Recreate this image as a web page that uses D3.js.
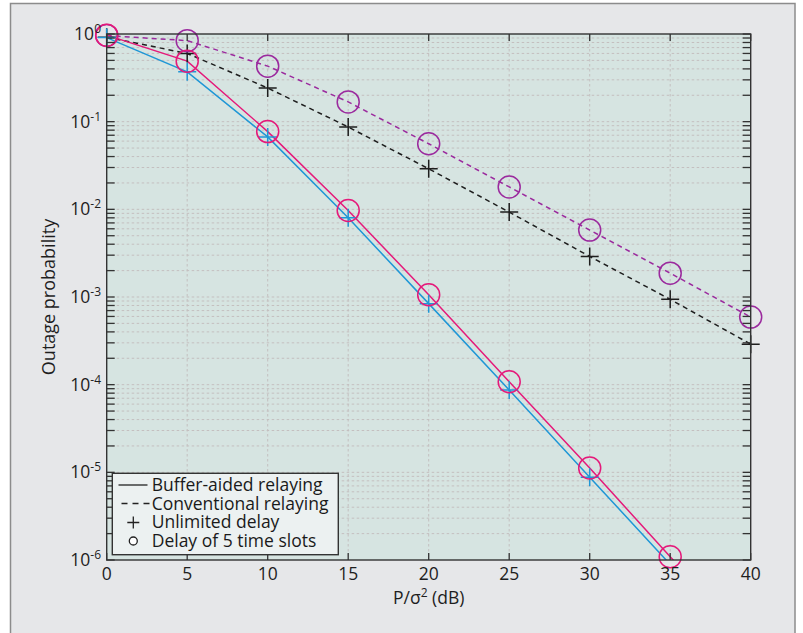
<!DOCTYPE html>
<html>
<head>
<meta charset="utf-8">
<script src="https://cdn.jsdelivr.net/npm/d3@7"></script>
<style>
html,body{margin:0;padding:0;background:#fff;}
svg{display:block;font-family:"Open Sans",sans-serif;}
</style>
</head>
<body>
<svg id="chart" width="803" height="633"></svg>
<script>
// ---- data ----
const snr = [0, 5, 10, 15, 20, 25, 30, 35, 40];
const bufferUnlimited = [0.91, 0.37, 0.067, 0.0080, 8.4e-4, 8.7e-5, 8.8e-6, 8.9e-7, 8.9e-8];
const bufferDelay5    = [0.97, 0.49, 0.077, 0.0097, 1.06e-3, 1.08e-4, 1.12e-5, 1.09e-6, 1.1e-7];
const convUnlimited   = [0.92, 0.60, 0.242, 0.087, 0.029, 0.0093, 0.0029, 9.4e-4, 2.9e-4];
const convDelay5      = [0.96, 0.84, 0.43, 0.168, 0.056, 0.018, 0.0058, 1.87e-3, 5.9e-4];
const xTicks = [0, 5, 10, 15, 20, 25, 30, 35, 40];
const yExponents = [0, -1, -2, -3, -4, -5, -6];
const legendLabels = ["Buffer-aided relaying", "Conventional relaying", "Unlimited delay", "Delay of 5 time slots"];
const xTitle = "P/σ";
const yTitle = "Outage probability";

// ---- layout ----
const svg = d3.select("#chart");
const L = 106.7, R = 750.7, T = 34, B = 560;
const x = d3.scaleLinear().domain([0, 40]).range([L, R]);
const y = d3.scaleLog().domain([1e-6, 1]).range([B, T]);
const FS = 17.5, SUP = 12;

// outer frame
svg.append("rect").attr("x", 10.5).attr("y", 3.5).attr("width", 784.5).attr("height", 700)
  .attr("fill", "#e6e7e9").attr("stroke", "#8c8c8c").attr("stroke-width", 1.5);

// plot background
svg.append("rect").attr("x", L).attr("y", T).attr("width", R - L).attr("height", B - T)
  .attr("fill", "#d6e4e1");

// log ticks (major + minor)
const allY = [];
for (let e = -6; e <= 0; e++) {
  for (let m = 1; m <= 9; m++) {
    const v = m * Math.pow(10, e);
    if (v <= 1.0000001) allY.push({v: v, major: m === 1});
  }
}

const grid = svg.append("g");
grid.selectAll("line.hy").data(allY.filter(d => d.v > 1e-6 && d.v < 1)).join("line")
  .attr("x1", L).attr("x2", R)
  .attr("y1", d => y(d.v)).attr("y2", d => y(d.v))
  .attr("stroke", "#c4bfbf").attr("stroke-width", 1).attr("stroke-dasharray", "2.5,2.5");
grid.selectAll("line.vx").data(xTicks.filter(d => d > 0 && d < 40)).join("line")
  .attr("x1", d => x(d)).attr("x2", d => x(d))
  .attr("y1", T).attr("y2", B)
  .attr("stroke", "#c4bfbf").attr("stroke-width", 1).attr("stroke-dasharray", "2.5,2.5");

// clip
svg.append("clipPath").attr("id", "clip").append("rect")
  .attr("x", L).attr("y", T).attr("width", R - L).attr("height", B - T);

const series = [
  {vals: convUnlimited, color: "#1e1e1e", dash: "5,4", marker: "plus"},
  {vals: convDelay5, color: "#9b2a9e", dash: "5,4", marker: "circle"},
  {vals: bufferUnlimited, color: "#1f97d6", dash: null, marker: "plus"},
  {vals: bufferDelay5, color: "#e5197a", dash: null, marker: "circle"}
];

const line = d3.line().x(d => x(d[0])).y(d => y(d[1]));
const plotG = svg.append("g");
series.forEach(s => {
  const pts = snr.map((v, i) => [v, s.vals[i]]);
  plotG.append("path").attr("clip-path", "url(#clip)")
    .attr("d", line(pts)).attr("fill", "none")
    .attr("stroke", s.color).attr("stroke-width", 1.5)
    .attr("stroke-dasharray", s.dash);
});
series.forEach(s => {
  const pts = snr.map((v, i) => [v, s.vals[i]]).filter(p => p[1] >= 1e-6 && p[1] <= 1);
  const g = plotG.append("g");
  if (s.marker === "circle") {
    g.selectAll("circle").data(pts).join("circle")
      .attr("cx", d => x(d[0])).attr("cy", d => y(d[1])).attr("r", 11)
      .attr("fill", "none").attr("stroke", s.color).attr("stroke-width", 1.5);
  } else {
    g.selectAll("path").data(pts).join("path")
      .attr("d", d => {
        const cx = x(d[0]), cy = y(d[1]), h = 9;
        return `M${cx - h},${cy}H${cx + h}M${cx},${cy - h}V${cy + h}`;
      })
      .attr("fill", "none").attr("stroke", s.color).attr("stroke-width", 1.5);
  }
});

// axes box
const axisColor = "#333";
svg.append("rect").attr("x", L).attr("y", T).attr("width", R - L).attr("height", B - T)
  .attr("fill", "none").attr("stroke", axisColor).attr("stroke-width", 1.4);

// y ticks (left and right, inward)
const ticksG = svg.append("g").attr("stroke", axisColor).attr("stroke-width", 1.3);
ticksG.selectAll("line.yl").data(allY).join("line")
  .attr("x1", L).attr("x2", L + 8)
  .attr("y1", d => y(d.v)).attr("y2", d => y(d.v));
ticksG.selectAll("line.yr").data(allY).join("line")
  .attr("x1", R).attr("x2", R - 8)
  .attr("y1", d => y(d.v)).attr("y2", d => y(d.v));
// x ticks (bottom and top, inward)
ticksG.selectAll("line.xb").data(xTicks).join("line")
  .attr("x1", d => x(d)).attr("x2", d => x(d)).attr("y1", B).attr("y2", B - 7);
ticksG.selectAll("line.xt").data(xTicks).join("line")
  .attr("x1", d => x(d)).attr("x2", d => x(d)).attr("y1", T).attr("y2", T + 7);

// x tick labels
svg.append("g").selectAll("text").data(xTicks).join("text")
  .attr("x", d => x(d)).attr("y", 580)
  .attr("text-anchor", "middle").attr("font-size", FS).attr("fill", "#1e1e1e")
  .text(d => d);

// y tick labels
const yl = svg.append("g").selectAll("text").data(yExponents).join("text")
  .attr("x", 101).attr("y", d => y(Math.pow(10, d)) + 6)
  .attr("text-anchor", "end").attr("font-size", FS).attr("fill", "#1e1e1e");
yl.append("tspan").text("10");
yl.append("tspan").attr("dy", -7).attr("font-size", SUP).text(d => d === 0 ? "0" : "-" + Math.abs(d));

// axis titles
const xt = svg.append("text").attr("x", (L + R) / 2).attr("y", 604)
  .attr("text-anchor", "middle").attr("font-size", FS).attr("fill", "#1e1e1e");
xt.append("tspan").text(xTitle);
xt.append("tspan").attr("dy", -7).attr("font-size", SUP).text("2");
xt.append("tspan").attr("dy", 7).text(" (dB)");

svg.append("text").attr("transform", `translate(55,${(T + B) / 2}) rotate(-90)`)
  .attr("text-anchor", "middle").attr("font-size", 18).attr("fill", "#1e1e1e")
  .text(yTitle);

// legend
const lg = svg.append("g");
lg.append("rect").attr("x", 112.3).attr("y", 473.3).attr("width", 226).attr("height", 81.4)
  .attr("fill", "#ecf1f1").attr("stroke", "#333").attr("stroke-width", 1.4);
const rowY = [491, 509.5, 528, 546.5];
lg.selectAll("text").data(legendLabels).join("text")
  .attr("x", 151.7).attr("y", (d, i) => rowY[i])
  .attr("font-size", FS).attr("fill", "#1a1a1a").text(d => d);
lg.append("line").attr("x1", 118.5).attr("x2", 147.5).attr("y1", rowY[0] - 6).attr("y2", rowY[0] - 6)
  .attr("stroke", "#222").attr("stroke-width", 1.3);
lg.append("line").attr("x1", 121.5).attr("x2", 149.5).attr("y1", rowY[1] - 6).attr("y2", rowY[1] - 6)
  .attr("stroke", "#222").attr("stroke-width", 1.3).attr("stroke-dasharray", "6,5");
lg.append("path").attr("d", `M${133.3 - 6},${rowY[2] - 5.5}H${133.3 + 6}M133.3,${rowY[2] - 11.5}V${rowY[2] + 0.5}`)
  .attr("stroke", "#222").attr("stroke-width", 1.3).attr("fill", "none");
lg.append("circle").attr("cx", 133.3).attr("cy", rowY[3] - 5.5).attr("r", 4)
  .attr("fill", "#fff").attr("stroke", "#222").attr("stroke-width", 1.3);
</script>
</body>
</html>
